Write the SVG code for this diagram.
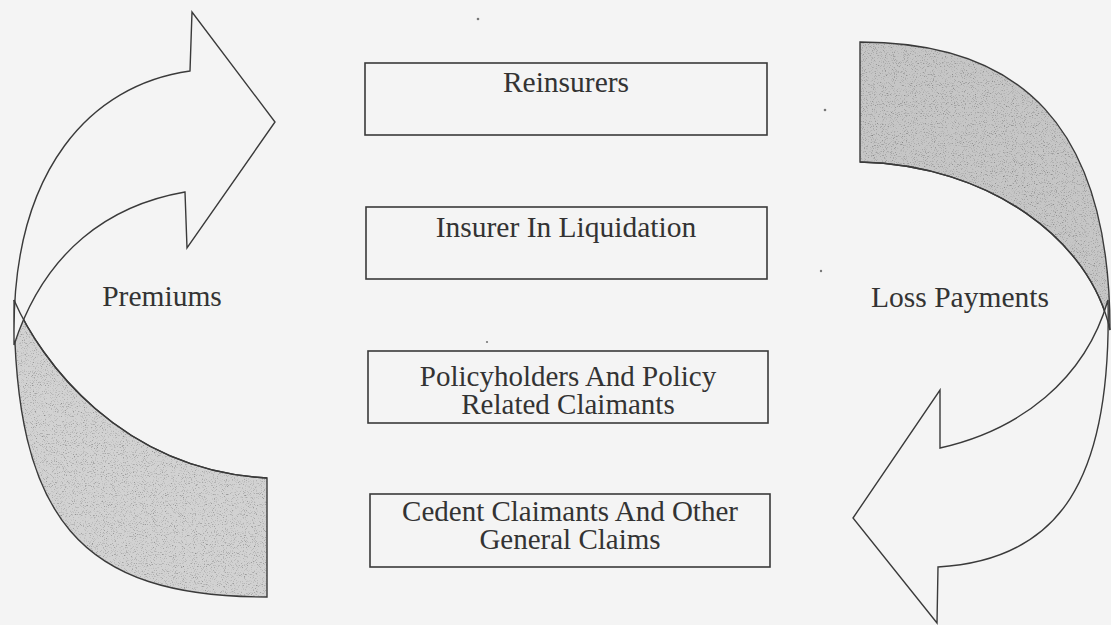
<svg xmlns="http://www.w3.org/2000/svg" width="1111" height="625" viewBox="0 0 1111 625">
  <defs>
    <filter id="grain" x="-5%" y="-5%" width="110%" height="110%" color-interpolation-filters="sRGB">
      <feTurbulence type="fractalNoise" baseFrequency="0.9" numOctaves="2" seed="7" result="noise"/>
      <feColorMatrix in="noise" type="matrix" values="1 0 0 0 0  1 0 0 0 0  1 0 0 0 0  0 0 0 0 1" result="gray"/>
      <feComponentTransfer in="gray" result="tone">
        <feFuncR type="linear" slope="1.0" intercept="0.55"/>
        <feFuncG type="linear" slope="1.0" intercept="0.55"/>
        <feFuncB type="linear" slope="1.0" intercept="0.55"/>
      </feComponentTransfer>
      <feBlend in="SourceGraphic" in2="tone" mode="multiply" result="mixed"/>
      <feComposite in="mixed" in2="SourceGraphic" operator="in"/>
    </filter>
  </defs>
  <style>
    .box { fill: none; stroke: #3a3a3a; stroke-width: 1.6; }
    .lbl { font-family: "Liberation Serif", "Times New Roman", serif; font-size: 29.5px; fill: #333; text-anchor: middle; }
    .lbl2 { font-size: 29px; }
    .front { fill: #f4f4f4; stroke: #3a3a3a; stroke-width: 1.4; stroke-linejoin: miter; }
    .shade { stroke: none; filter: url(#grain); }
    .edge { fill: none; stroke: #3a3a3a; stroke-width: 1.4; }
    .speck { fill: #777; }
  </style>
  <rect x="0" y="0" width="1111" height="625" fill="#f4f4f4"/>

  <g id="premiums-arrow">
    <path class="shade" fill="#d2d2d2" d="M14,300 C40,360 120,470 267,478 L267,597 C80,597 14,520 14,300 Z"/>
    <path class="edge" d="M14,300 C40,360 120,470 267,478 L267,597 C80,597 14,520 14,300 Z"/>
    <path class="front" d="M190,71 L192,12 L275,122 L187,248 L185,192 C110,205 45,250 14,345 L14,330 C14,170 90,85 190,71 Z"/>
    <path class="edge" d="M14,300 C40,360 120,470 267,478"/>
  </g>

  <g id="loss-payments-arrow">
    <path class="shade" fill="#c6c6c6" d="M860,162 C990,165 1090,240 1110,330 C1110,125 1020,42 860,42 Z"/>
    <path class="edge" d="M860,162 C990,165 1090,240 1110,330 C1110,125 1020,42 860,42 Z"/>
    <path class="front" d="M938,567 L937,623 L853,518 L940,390 L940,448 C1020,430 1085,380 1108,300 C1112,480 1060,560 938,567 Z"/>
    <path class="edge" d="M860,162 C990,165 1090,240 1110,330"/>
  </g>

  <g id="label-premiums">
    <text class="lbl" x="162" y="306">Premiums</text>
  </g>
  <g id="label-loss-payments">
    <text class="lbl" x="960" y="307">Loss Payments</text>
  </g>

  <g id="reinsurers">
    <rect class="box" x="365" y="63" width="402" height="72"/>
    <text class="lbl" x="566" y="92">Reinsurers</text>
  </g>
  <g id="insurer-in-liquidation">
    <rect class="box" x="366" y="207" width="401" height="72"/>
    <text class="lbl" x="566" y="237">Insurer In Liquidation</text>
  </g>
  <g id="policyholders">
    <rect class="box" x="368" y="351" width="400" height="72"/>
    <text class="lbl lbl2" x="568" y="386">Policyholders And Policy</text>
    <text class="lbl lbl2" x="568" y="414">Related Claimants</text>
  </g>
  <g id="cedent-claimants">
    <rect class="box" x="370" y="494" width="400" height="73"/>
    <text class="lbl lbl2" x="570" y="521">Cedent Claimants And Other</text>
    <text class="lbl lbl2" x="570" y="549">General Claims</text>
  </g>

  <g id="connectors"></g>

  <g id="specks">
    <circle class="speck" cx="478" cy="19" r="1.3"/>
    <circle class="speck" cx="487" cy="342" r="1.1"/>
    <circle class="speck" cx="825" cy="110" r="1.3"/>
    <circle class="speck" cx="821" cy="271" r="1.2"/>
  </g>
</svg>
